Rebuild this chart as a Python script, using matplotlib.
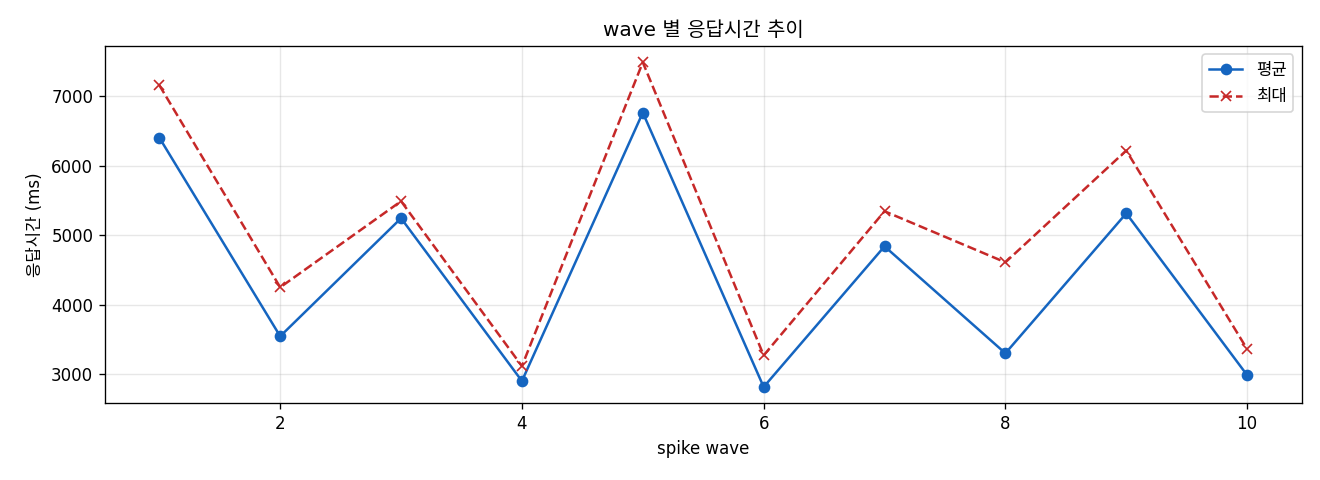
import matplotlib
matplotlib.use('Agg')
import matplotlib.pyplot as plt

plt.rcParams['font.family'] = ['DejaVu Sans', 'Noto Sans CJK KR']
plt.rcParams['axes.unicode_minus'] = False

waves = [1, 2, 3, 4, 5, 6, 7, 8, 9, 10]
avg_ms = [6405, 3545, 5245, 2900, 6765, 2815, 4840, 3300, 5315, 2985]
max_ms = [7160, 4250, 5490, 3115, 7490, 3270, 5345, 4610, 6220, 3360]

fig, ax = plt.subplots(figsize=(11, 4), dpi=120)
ax.plot(waves, avg_ms, marker='o', color='#1565C0', label='평균')
ax.plot(waves, max_ms, marker='x', linestyle='--', color='#C62828', label='최대')
ax.set_title('wave 별 응답시간 추이')
ax.set_xlabel('spike wave')
ax.set_ylabel('응답시간 (ms)')
ax.grid(True, alpha=0.3)
ax.legend(loc='upper right')
plt.subplots_adjust(left=0.0795, right=0.986, top=0.904, bottom=0.16)
plt.savefig('out.png')
